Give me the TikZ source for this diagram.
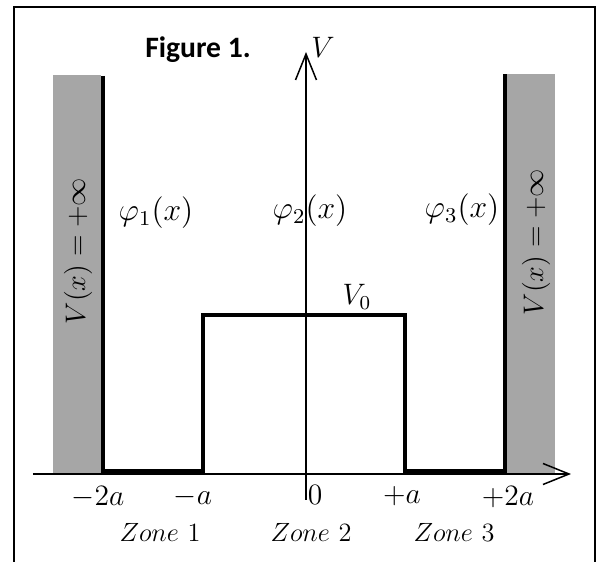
\documentclass[tikz,border=0pt]{standalone}
\usepackage{fontspec}
\newfontfamily\capfont{Carlito}
\usetikzlibrary{arrows.meta}
\definecolor{ink}{HTML}{000000}
\definecolor{wallgray}{HTML}{A6A6A6}
\tikzset{
  frameline/.style={line width=0.9pt,draw=ink},
  axisline/.style={line width=0.75pt,draw=ink,-{Straight Barb[length=13pt,width=10.5pt,line width=0.75pt]}},
  well/.style={line width=2pt,draw=ink},
  barrier/.style={fill=wallgray,draw=none},
  mathlbl/.style={font=\large,inner sep=0pt,scale=1.1,transform shape},
  ticklbl/.style={mathlbl,scale=1.12},
  philbl/.style={mathlbl,scale=1.2},
  walllbl/.style={mathlbl,scale=1.07,rotate=90}
}

\begin{document}
\begin{tikzpicture}[x=0.5pt,y=0.5pt]
  \useasboundingbox (-305,-88) rectangle (296,474);
  \draw[frameline] (-291,-88) |- (290,467) -- (290,-88);
  % walls at -2a and +2a
  \fill[barrier] (-252,0) rectangle (-204,399);
  \fill[barrier] (202,0) rectangle (250,400);
  \draw[well] (-202,398) -- (-202,2.5) -- (-102,2.5) -- (-102,159) -- (100,159)
    -- (100,2.5) -- (200,2.5) -- (200,400);
  % axes
  \coordinate (xstart) at (-272,0);
  \coordinate (xend) at (266,0);
  \coordinate (vstart) at (1,-26);
  \coordinate (vend) at (1,422);
  \draw[axisline] (xstart) -- (xend);
  \draw[axisline] (vstart) -- (vend);
  \node[ticklbl] (vlab) at (18,427) {$V$};
  \node[ticklbl] (vzero) at (52,177) {$V_0$};
  \node[font=\capfont\bfseries\fontsize{14.8}{17}\selectfont,inner sep=0pt] (fig) at (-107,424) {Figure 1.};
  \node[walllbl] (leftwall) at (-227,223) {$V(x)=+\infty$};
  \node[walllbl] (rightwall) at (231,232) {$V(x)=+\infty$};
  \node[philbl] (phione) at (-149,261) {$\varphi_1(x)$};
  \node[philbl] (phitwo) at (5,263) {$\varphi_2(x)$};
  \node[philbl] (phithree) at (157,264) {$\varphi_3(x)$};
  % ticks
  \node[ticklbl] (mtwoa) at (-207,-23) {$-2a$};
  \node[ticklbl] (ma) at (-112,-23) {$-a$};
  \node[ticklbl] (zero) at (10,-21) {$0$};
  \node[ticklbl] (pa) at (97,-22) {$+a$};
  \node[ticklbl] (ptwoa) at (203,-23) {$+2a$};
  % zones
  \node[mathlbl] (zoneone) at (-145,-58) {$Zone\ 1$};
  \node[mathlbl] (zonetwo) at (6,-58) {$Zone\ 2$};
  \node[mathlbl] (zonethree) at (149,-58) {$Zone\ 3$};
\end{tikzpicture}
\end{document}
